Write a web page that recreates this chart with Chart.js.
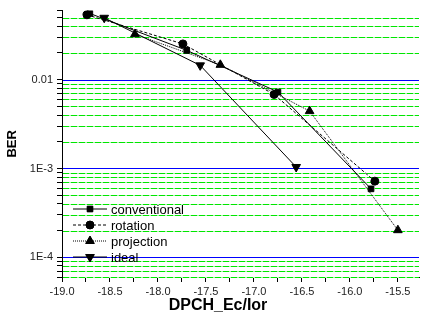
<!DOCTYPE html>
<html>
<head>
<meta charset="utf-8">
<script src="https://cdn.jsdelivr.net/npm/chart.js@4/dist/chart.umd.min.js"></script>
<style>
  body { margin: 0; background: #fff; }
  #wrap { position: relative; width: 425px; height: 322px; }
</style>
</head>
<body>
<div id="wrap"><canvas id="myChart" width="425" height="322"></canvas></div>
<script>
// Values
var seriesNames = ['conventional', 'rotation', 'projection', 'ideal'];
var convX = [-18.71, -17.70, -16.75, -15.78];
var convY = [0.0557, 0.0214, 0.00726, 0.00059];
var rotX = [-18.74, -17.74, -16.79, -15.74];
var rotY = [0.0538, 0.0253, 0.00682, 0.00072];
var projX = [-18.24, -17.35, -16.42, -15.50];
var projY = [0.0325, 0.0147, 0.00443, 0.000202];
var idealX = [-18.56, -17.56, -16.56];
var idealY = [0.0498, 0.0145, 0.00104];
var yLabels = { '0.01': '0.01', '0.001': '1E-3', '0.0001': '1E-4' };

var FONT = '"Liberation Sans", Arial, sans-serif';

function toPoints(xs, ys) {
    var pts = [];
    for (var i = 0; i < xs.length; i++) {
        pts.push({ x: xs[i], y: ys[i] });
    }
    return pts;
}

function isDecade(v) {
    var e = Math.log10(v);
    return Math.abs(e - Math.round(e)) < 1e-6;
}

// mantissa of a log tick (1..9), Chart.js also adds 1.5 which we drop
function mantissa(v) {
    return v / Math.pow(10, Math.floor(Math.log10(v) + 1e-9));
}

var styles = [
    { dash: [], marker: 'rect', rot: 0, r: 4 },
    { dash: [3, 2], marker: 'circle', rot: 0, r: 4 },
    { dash: [1, 1], marker: 'triangle', rot: 0, r: 5 },
    { dash: [], marker: 'triangle', rot: 180, r: 5 }
];
var allX = [convX, rotX, projX, idealX];
var allY = [convY, rotY, projY, idealY];

var datasets = [];
for (var i = 0; i < seriesNames.length; i++) {
    datasets.push({
        label: seriesNames[i],
        data: toPoints(allX[i], allY[i]),
        showLine: true,
        borderColor: '#000',
        backgroundColor: '#000',
        borderWidth: 1,
        borderDash: styles[i].dash,
        pointStyle: styles[i].marker,
        pointRotation: styles[i].rot,
        pointRadius: styles[i].r,
        pointBorderWidth: 1,
        tension: 0
    });
}

// horizontal grid: blue at decades, green dashed at the minor ticks
var logGrid = {
    id: 'logGrid',
    beforeDatasetsDraw: function(chart) {
        var c = chart.ctx;
        var area = chart.chartArea;
        var ys = chart.scales.y;
        c.save();
        c.lineWidth = 1;
        ys.ticks.forEach(function(t) {
            if (t.value >= ys.max * 0.999) return;
            var py = Math.round(ys.getPixelForValue(t.value)) + 0.5;
            if (isDecade(t.value)) {
                c.strokeStyle = 'rgb(0,0,255)';
                c.setLineDash([]);
            } else {
                // pale base so the dash gaps are light green, not white
                c.strokeStyle = 'rgb(170,245,170)';
                c.setLineDash([]);
                c.beginPath();
                c.moveTo(area.left + 1, py);
                c.lineTo(area.right, py);
                c.stroke();
                c.strokeStyle = 'rgb(0,230,0)';
                c.setLineDash([6, 2]);
            }
            c.beginPath();
            c.moveTo(area.left + 1, py);
            c.lineTo(area.right, py);
            c.stroke();
        });
        c.restore();
    }
};

// legend inside the plot (lower left) and the x axis title
var innerLegend = {
    id: 'innerLegend',
    afterDraw: function(chart) {
        var c = chart.ctx;
        var area = chart.chartArea;
        var x0 = area.left + 11;
        c.save();
        for (var i = 0; i < seriesNames.length; i++) {
            var y = area.bottom - 68 + i * 16;
            c.strokeStyle = '#000';
            c.lineWidth = 1;
            c.setLineDash(styles[i].dash);
            c.beginPath();
            c.moveTo(x0, y);
            c.lineTo(x0 + 34, y);
            c.stroke();
            c.setLineDash([]);
            Chart.helpers.drawPoint(c, {
                pointStyle: styles[i].marker,
                rotation: styles[i].rot,
                radius: styles[i].r,
                borderWidth: 1
            }, x0 + 17, y);
            c.fillStyle = '#000';
            c.fill();
            c.font = '13px ' + FONT;
            c.textBaseline = 'middle';
            c.textAlign = 'left';
            c.fillText(seriesNames[i], x0 + 38, y + 1);
        }
        c.font = 'bold 16px ' + FONT;
        c.textAlign = 'center';
        c.textBaseline = 'middle';
        c.fillText('DPCH_Ec/Ior', area.left + 156, area.bottom + 29);
        c.restore();
    }
};

var ctx = document.getElementById('myChart').getContext('2d');
var myChart = new Chart(ctx, {
    type: 'scatter',
    data: { datasets: datasets },
    options: {
        responsive: false,
        animation: false,
        layout: { padding: { top: 10, right: 0, left: 0, bottom: 0 } },
        plugins: {
            legend: { display: false },
            tooltip: { enabled: false }
        },
        scales: {
            x: {
                type: 'linear',
                min: -19,
                max: -15.28,
                afterFit: function(scale) { scale.height = 45; },
                ticks: {
                    stepSize: 0.25,
                    includeBounds: false,
                    autoSkip: false,
                    maxRotation: 0,
                    padding: 3,
                    color: '#222',
                    font: { family: FONT, size: 11 },
                    callback: function(v) {
                        if (Math.abs(v * 2 - Math.round(v * 2)) < 1e-6) return v.toFixed(1);
                        return '';
                    }
                },
                grid: { drawOnChartArea: false, tickLength: 5, tickColor: '#000' },
                border: { color: '#000', width: 1 }
            },
            y: {
                type: 'logarithmic',
                min: 0.00006,
                max: 0.06,
                afterFit: function(scale) { scale.width = 62; },
                afterBuildTicks: function(scale) {
                    scale.ticks = scale.ticks.filter(function(t) {
                        return Math.abs(mantissa(t.value) - 1.5) > 0.01;
                    });
                },
                ticks: {
                    autoSkip: false,
                    padding: 4,
                    color: '#222',
                    font: { family: FONT, size: 11 },
                    callback: function(v) {
                        var key = String(+v.toPrecision(3));
                        return yLabels[key] || '';
                    }
                },
                grid: { drawOnChartArea: false, tickLength: 5, tickColor: '#000' },
                border: { color: '#000', width: 1 },
                title: {
                    display: true,
                    text: 'BER',
                    color: '#000',
                    padding: { top: 5, bottom: 0 },
                    font: { family: FONT, size: 13, weight: 'bold' }
                }
            }
        }
    },
    plugins: [logGrid, innerLegend]
});
</script>
</body>
</html>
